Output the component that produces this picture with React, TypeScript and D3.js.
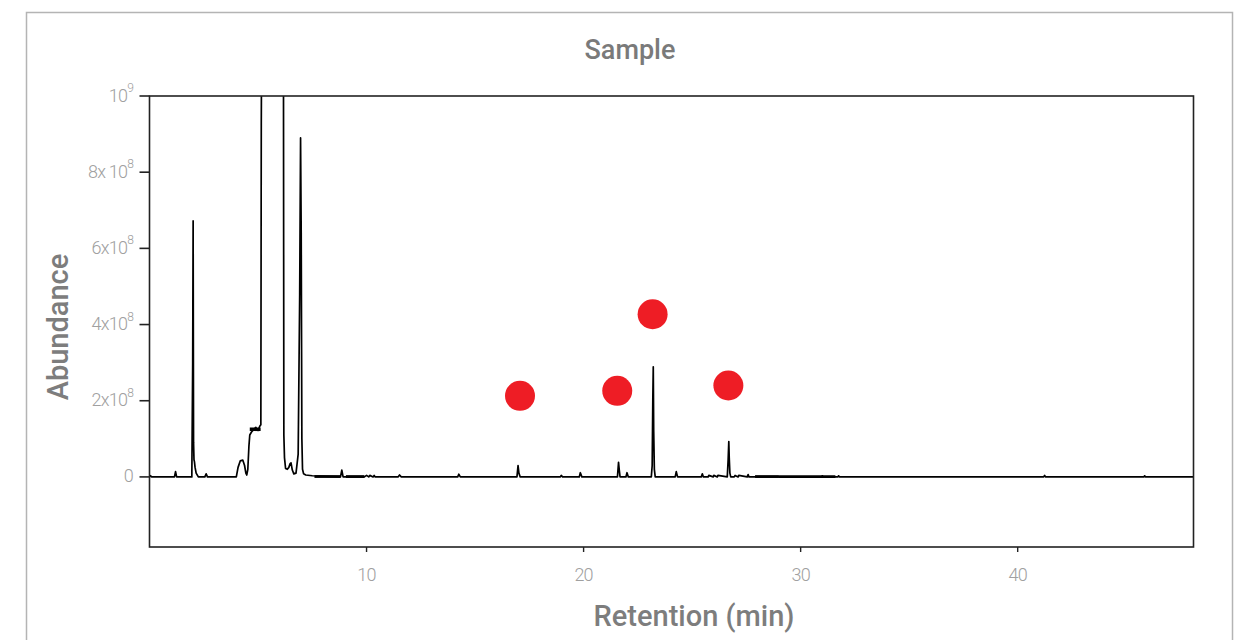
import React from "react";
import * as d3 from "d3";

// Chromatogram trace: retention time (min) and abundance (x1e8)
const traceTime = [
  0, 0.05, 0.1, 1.15, 1.2, 1.25, 1.95, 1.99, 2.01, 2.03, 2.05, 2.07, 2.1, 2.15, 2.25, 2.55, 2.61, 2.67,
  4.0, 4.08, 4.18, 4.3, 4.38, 4.44, 4.48, 4.53, 4.58, 4.62, 4.7, 4.8, 4.9, 5.0, 5.08, 5.13, 5.15, 5.17,
  6.17, 6.19, 6.22, 6.27, 6.35, 6.42, 6.48, 6.52, 6.58, 6.65, 6.75, 6.85, 6.92, 6.96, 6.99, 7.02, 7.05,
  7.1, 7.2, 7.5, 8.8, 8.86, 8.92, 9.9, 10.0, 10.1, 10.15, 10.3, 10.35, 10.4, 10.5, 11.45, 11.52, 11.6,
  14.2, 14.25, 14.32, 16.93, 16.98, 17.02, 17.08, 18.92, 18.97, 19.03, 19.8, 19.85, 19.92, 21.56,
  21.61, 21.64, 21.68, 21.95, 22.0, 22.06, 23.12, 23.16, 23.19, 23.21, 23.23, 23.26, 23.3, 24.22, 24.27,
  24.33, 25.42, 25.47, 25.52, 25.74, 25.77, 25.97, 26.0, 26.16, 26.19, 26.62, 26.66, 26.69, 26.71,
  26.74, 26.78, 26.94, 26.98, 27.12, 27.15, 27.54, 27.58, 27.62, 30.97, 31.0, 31.03, 31.72, 31.75,
  31.78, 41.2, 41.24, 41.29, 45.82, 45.85, 45.88, 48.1,
];
const traceAbundance = [
  0, 0.03, 0, 0, 0.14, 0, 0, 3.0, 6.72, 0.9, 0.45, 0.4, 0.25, 0.1, 0, 0, 0.08, 0,
  0, 0.25, 0.42, 0.44, 0.3, 0.1, 0.05, 0.2, 0.8, 1.1, 1.18, 1.24, 1.3, 1.22, 1.33, 1.37, 9.25, 12,
  12, 1.1, 0.5, 0.22, 0.2, 0.25, 0.35, 0.37, 0.18, 0.08, 0.1, 0.6, 4.8, 8.9, 6.4, 1.0, 0.2,
  0.08, 0.05, 0.03, 0, 0.18, 0, 0, 0.04, 0, 0.04, 0, 0.04, 0, 0, 0, 0.05, 0,
  0, 0.07, 0, 0, 0.3, 0.1, 0, 0, 0.04, 0, 0, 0.11, 0, 0,
  0.38, 0.2, 0, 0, 0.11, 0, 0, 0.3, 2.08, 2.89, 1.2, 0.2, 0, 0, 0.14,
  0, 0, 0.08, 0, 0, 0.04, 0, 0.04, 0, 0.04, 0, 0.45, 0.93, 0.5,
  0.1, 0, 0, 0.04, 0, 0.04, 0, 0.06, 0, 0, 0.03, 0, 0, 0.03,
  0, 0, 0.04, 0, 0, 0.03, 0, 0,
];
// noisy (thick) baseline stretches, minutes
const noiseStart = [4.62, 7.6, 9.05, 27.9, 29.0];
const noiseEnd = [5.12, 8.8, 9.9, 29.0, 31.6];
const noiseLevel = [1.25, 0.01, 0.01, 0.01, 0.01];

// Marked compounds (red dots)
const markTime = [17.07, 21.55, 23.18, 26.67];
const markAbundance = [2.13, 2.26, 4.27, 2.4];

const xTicks = [10, 20, 30, 40];
const yTicks = [0, 2, 4, 6, 8, 10];
const yTickMantissa = ["", "2x", "4x", "6x", "8x\u00a0", ""];
const yTickExp = ["", "8", "8", "8", "8", "9"];

const W = 1234;
const H = 640;
const m = { left: 149.5, right: 1193.5, top: 96, bottom: 547 };
const FONT = "Roboto, 'Noto Sans', sans-serif";

export default function App() {
  const x = d3.scaleLinear().domain([0, 48.1]).range([m.left, m.right]);
  const y = d3.scaleLinear().domain([-1.84, 10]).range([m.bottom, m.top]);
  const pts: [number, number][] = traceTime.map((t, i) => [t, traceAbundance[i]]);
  const line = d3
    .line<[number, number]>()
    .x((d) => x(d[0]))
    .y((d) => y(d[1]));

  return (
    <svg
      width={W}
      height={H}
      style={{ position: "absolute", left: 0, top: 0, background: "#fff" }}
    >
      <defs>
        <clipPath id="plotclip">
          <rect x={m.left} y={m.top} width={m.right - m.left} height={m.bottom - m.top} />
        </clipPath>
      </defs>
      <rect x={26.5} y={12.5} width={1206} height={700} fill="#fff" stroke="#b4b4b4" strokeWidth={1.5} />
      <text x={630} y={50} textAnchor="middle" dominantBaseline="central" fontFamily={FONT} fontWeight={500} fontSize={27} fill="#7a7a7a">
        Sample
      </text>

      <g clipPath="url(#plotclip)">
        <path d={line(pts) || ""} fill="none" stroke="#000" strokeWidth={1.7} strokeLinejoin="round" />
        {noiseStart.map((s, i) => (
          <line
            key={i}
            x1={x(s)}
            x2={x(noiseEnd[i])}
            y1={y(noiseLevel[i])}
            y2={y(noiseLevel[i])}
            stroke="#000"
            strokeWidth={i === 0 ? 3.5 : 2.8}
          />
        ))}
      </g>

      <rect x={m.left} y={m.top} width={m.right - m.left} height={m.bottom - m.top} fill="none" stroke="#222" strokeWidth={1.6} />

      {yTicks.map((v, i) => (
        <g key={v}>
          <line x1={m.left - 10} x2={m.left} y1={y(v)} y2={y(v)} stroke="#222" strokeWidth={1.6} />
          <text x={133} y={y(v) - 1} textAnchor="end" dominantBaseline="central" fontFamily={FONT} fontWeight={300} fontSize={18} fill="#a0a0a0" letterSpacing={-0.8}>
            {v === 0 ? "0" : (
              <>
                {yTickMantissa[i]}10
                <tspan dy={-7} fontSize={12}>{yTickExp[i]}</tspan>
              </>
            )}
          </text>
        </g>
      ))}

      {xTicks.map((v) => (
        <g key={v}>
          <line x1={x(v)} x2={x(v)} y1={m.bottom} y2={m.bottom + 5} stroke="#222" strokeWidth={1.4} />
          <text x={x(v)} y={574} textAnchor="middle" dominantBaseline="central" fontFamily={FONT} fontWeight={300} fontSize={18} fill="#a0a0a0" letterSpacing={-0.8}>
            {v}
          </text>
        </g>
      ))}

      {markTime.map((t, i) => (
        <circle key={i} cx={x(t)} cy={y(markAbundance[i])} r={15} fill="#ee1d25" />
      ))}

      <text
        transform={`translate(58,327) rotate(-90)`}
        textAnchor="middle"
        dominantBaseline="central"
        fontFamily={FONT}
        fontWeight={500}
        fontSize={29}
        fill="#7d7d7d"
      >
        Abundance
      </text>
      <text x={694} y={616} textAnchor="middle" dominantBaseline="central" fontFamily={FONT} fontWeight={500} fontSize={29} fill="#7d7d7d">
        Retention (min)
      </text>
    </svg>
  );
}
